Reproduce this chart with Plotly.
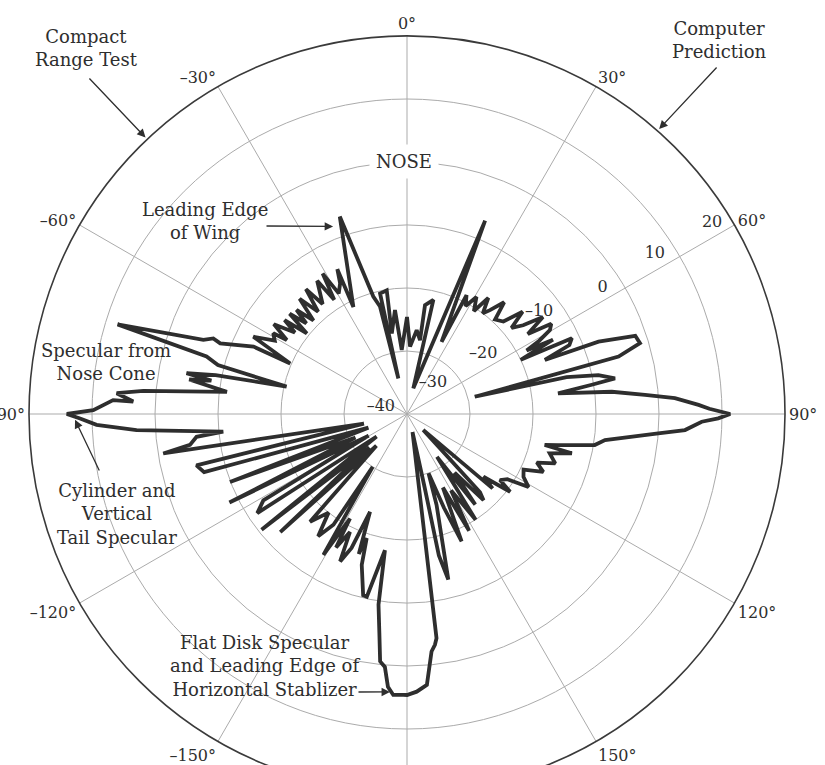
import math
import plotly.graph_objects as go

# Aspect angle (deg, 0 = nose, clockwise positive) and RCS level (dBsm) along the trace
theta_deg = [
    -179.2, -177.2, -176.0, -175.0, -173.8, -172.8, -171.5, -170.8, -167.6, -166.4,
    -163.3, -162.0, -161.0, -159.3, -157.5, -155.6, -154.2, -152.0, -151.4, -149.3,
    -147.0, -146.4, -144.0, -141.5, -138.0, -136.0, -133.0, -131.5, -128.5, -126.5,
    -123.5, -121.0, -119.5, -116.5, -114.5, -111.0, -109.5, -106.0, -103.7, -102.5,
    -99.2, -98.1, -96.2, -95.5, -93.4, -92.0, -90.8, -90.0, -89.3, -87.3,
    -87.4, -85.9, -85.0, -83.0, -81.0, -80.3, -79.5, -78.5, -77.2, -75.5,
    -74.0, -72.8, -70.0, -68.7, -69.3, -66.3, -66.6, -63.3, -61.0, -58.9,
    -58.4, -56.0, -54.0, -52.5, -51.2, -49.5, -48.0, -46.7, -45.0, -43.0,
    -41.0, -39.0, -37.5, -34.0, -32.5, -31.0, -29.5, -27.1, -25.7, -26.6,
    -18.8, -16.0, -14.1, -13.7, -12.6, -9.3, -10.7, -6.6, -4.7, 0.0,
    2.6, 6.6, 10.0, 9.4, 13.0, 13.8, 22.0, 25.6, 26.6, 28.5,
    30.7, 33.0, 35.0, 37.0, 38.6, 41.0, 43.0, 46.2, 48.5, 50.5,
    52.6, 54.5, 56.5, 58.0, 59.6, 61.0, 62.0, 63.0, 64.5, 65.3,
    67.0, 68.6, 69.3, 71.1, 73.1, 74.8, 75.7, 77.0, 78.5, 80.3,
    81.0, 82.2, 83.8, 85.4, 86.6, 88.2, 89.0, 90.0, 90.8, 91.5,
    93.3, 94.4, 97.5, 99.4, 101.6, 102.7, 103.4, 105.4, 108.4, 110.5,
    113.0, 115.5, 118.3, 121.0, 123.0, 125.4, 127.0, 129.4, 131.0, 134.4,
    137.0, 138.4, 141.0, 143.0, 145.0, 147.0, 150.0, 152.0, 154.0, 156.8,
    158.5, 160.0, 162.0, 166.0, 167.3, 166.5, 163.0, 172.5, 173.1, 174.1,
    175.8, 178.0, 180.0,
]
rcs_db = [
    4.6, 4.65, 3.4, 0.3, -0.5, -5.0, -9.4, -18.1, -10.3, -10.4,
    -15.0, -19.3, -16.5, -23.4, -17.0, -14.3, -19.2, -16.0, -21.1, -14.0,
    -30.0, -18.9, -16.0, -20.0, -17.0, -33.0, -12.5, -32.0, -10.5, -34.0,
    -11.5, -13.4, -33.0, -8.5, -31.0, -9.9, -33.5, -6.5, -5.6, -33.0,
    -0.8, -5.2, -6.4, -10.7, 3.0, 9.3, 11.9, 14.0, 9.8, 6.7,
    3.5, 6.2, 2.0, -11.2, -5.0, -8.5, -4.4, -9.0, -20.4, -9.0,
    -6.9, 8.1, -5.6, -7.0, -8.3, -13.4, -19.8, -12.7, -16.0, -15.2,
    -17.6, -14.5, -18.0, -15.5, -19.6, -15.5, -18.5, -15.9, -19.0, -15.0,
    -18.5, -14.5, -18.0, -14.5, -18.5, -14.0, -18.0, -16.7, -14.5, -21.0,
    -6.9, -20.6, -22.4, -34.2, -20.4, -20.1, -27.0, -23.4, -29.8, -24.6,
    -29.3, -26.6, -28.1, -22.5, -21.4, -35.8, -6.9, -27.3, -18.9, -20.5,
    -18.4, -20.5, -17.5, -20.0, -18.9, -16.5, -19.5, -18.8, -15.5, -18.5,
    -16.8, -13.5, -17.0, -13.0, -13.7, -16.0, -18.5, -14.0, -20.0, -11.2,
    -12.0, -16.5, -7.5, -1.7, -1.35, -5.2, -28.9, -14.0, -9.0, -6.5,
    -10.3, -15.8, -7.3, -2.1, 2.6, 6.3, 8.0, 11.3, 9.4, 6.8,
    4.2, 0.0, -8.3, -9.8, -15.5, -17.6, -13.1, -16.5, -15.2, -18.0,
    -16.5, -19.5, -19.0, -17.5, -21.0, -21.9, -19.5, -24.3, -22.0, -36.4,
    -23.0, -21.7, -28.0, -22.0, -31.7, -20.0, -26.0, -19.0, -27.0, -18.0,
    -24.0, -30.0, -24.8, -12.9, -17.0, -28.0, -37.0, -4.1, -3.1, -2.1,
    3.1, 4.1, 4.6,
]

# Radial rings (dB) and their labels
ring_values = [-40, -30, -20, -10, 0, 10, 20]
ring_labels = ["–40", "–30", "–20", "–10", "0", "10", "20"]

# Angular spokes every 30 degrees (the 180° label falls below the page)
spoke_values = [0, 30, 60, 90, 120, 150, 180, 210, 240, 270, 300, 330]
spoke_labels = ["0°", "30°", "60°", "90°", "120°", "150°", "",
                "–150°", "–120°", "–90°", "–60°", "–30°"]

# ---- page geometry -------------------------------------------------------
W, H = 825, 800
L, T, D = 29, 36, 756          # left, top, diameter of the polar disk (px)
R0, R1 = ring_values[0], ring_values[-1]

SERIF = "DejaVu Serif"
INK = "#2e2e2e"
GRID = "#ababab"


def polar_px(theta, r):
    """Screen position (px) of a polar point, for annotation placement."""
    rad = (r - R0) / (R1 - R0) * D / 2
    cx, cy = L + D / 2, T + D / 2
    t = math.radians(theta)
    return cx + rad * math.sin(t), cy - rad * math.cos(t)


def paper(px, py):
    return (px - L) / D, (T + D - py) / D


fig = go.Figure()

fig.add_trace(go.Scatterpolar(
    theta=theta_deg + theta_deg[:1],
    r=rcs_db + rcs_db[:1],
    mode="lines",
    line=dict(color=INK, width=3.8),
    hoverinfo="skip",
    showlegend=False,
))

# dB labels, set just inside each ring near the 60° spoke
label_theta = [-75, 40, 51.7, 52.3, 57.3, 57.2, 58.0]
label_shift = [4.3, -3.6, -4.6, -3.5, -3.1, -3.2, -2.9]
fig.add_trace(go.Scatterpolar(
    theta=label_theta,
    r=[v + s for v, s in zip(ring_values, label_shift)],
    mode="text",
    text=ring_labels,
    textfont=dict(family=SERIF, size=16, color=INK),
    textposition="middle center",
    hoverinfo="skip",
    showlegend=False,
))

fig.update_layout(
    width=W, height=H,
    margin=dict(l=L, r=W - L - D, t=T, b=H - T - D),
    paper_bgcolor="white",
    plot_bgcolor="white",
    polar=dict(
        domain=dict(x=[0, 1], y=[0, 1]),
        bgcolor="white",
        angularaxis=dict(
            rotation=90,
            direction="clockwise",
            tickmode="array",
            tickvals=spoke_values,
            ticktext=spoke_labels,
            ticks="",
            showline=True,
            linecolor="#3a3a3a",
            linewidth=1.6,
            gridcolor=GRID,
            gridwidth=1,
            tickfont=dict(family=SERIF, size=16, color=INK),
        ),
        radialaxis=dict(
            range=[R0, R1],
            tickmode="array",
            tickvals=ring_values[1:],
            showticklabels=False,
            ticks="",
            showline=False,
            gridcolor=GRID,
            gridwidth=1,
        ),
    ),
)

TXT = dict(family=SERIF, size=18, color=INK)
notes = [
    ("Compact<br>Range Test", 86, 48),
    ("Computer<br>Prediction", 719, 40),
    ("Leading Edge<br>of Wing", 205, 221),
    ("Specular from<br>Nose Cone", 106, 362),
    ("Cylinder and<br>Vertical<br>Tail Specular", 117, 514),
    ("Flat Disk Specular<br>and Leading Edge of<br>Horizontal Stablizer", 265, 666),
]
for text, px, py in notes:
    x, y = paper(px, py)
    fig.add_annotation(x=x, y=y, xref="paper", yref="paper", text=text,
                       showarrow=False, font=TXT, align="center",
                       xanchor="center", yanchor="middle")

# "NOSE" sits on the 0 dB ring, masking the grid behind it
nx, ny = paper(*polar_px(0, 0))
fig.add_annotation(x=nx - 3 / D, y=ny, xref="paper", yref="paper", text="NOSE",
                   showarrow=False, font=TXT, bgcolor="white", borderpad=6,
                   xanchor="center", yanchor="middle")

# arrows: (tip theta, tip r) and tail in px
arrows = [
    ((-43.4, 20.4), (88, 77)),
    ((41.5, 20.4), (718, 66)),
    ((-21.5, -8.0), (265, 226)),
    ((-91.0, 12.7), (100, 472)),
    ((-176.5, 4.2), (357, 692)),
]
for (th, rr), (tx, ty) in arrows:
    hx, hy = polar_px(th, rr)
    x, y = paper(hx, hy)
    fig.add_annotation(x=x, y=y, xref="paper", yref="paper", text="",
                       showarrow=True, arrowhead=2, arrowsize=1.3,
                       arrowwidth=1.3, arrowcolor=INK,
                       ax=tx - hx, ay=ty - hy)

fig.write_html(
    "out.html",
    post_script="document.documentElement.style.overflow='hidden';"
                "document.body.style.overflow='hidden';"
                "document.body.style.margin='0';",
)
